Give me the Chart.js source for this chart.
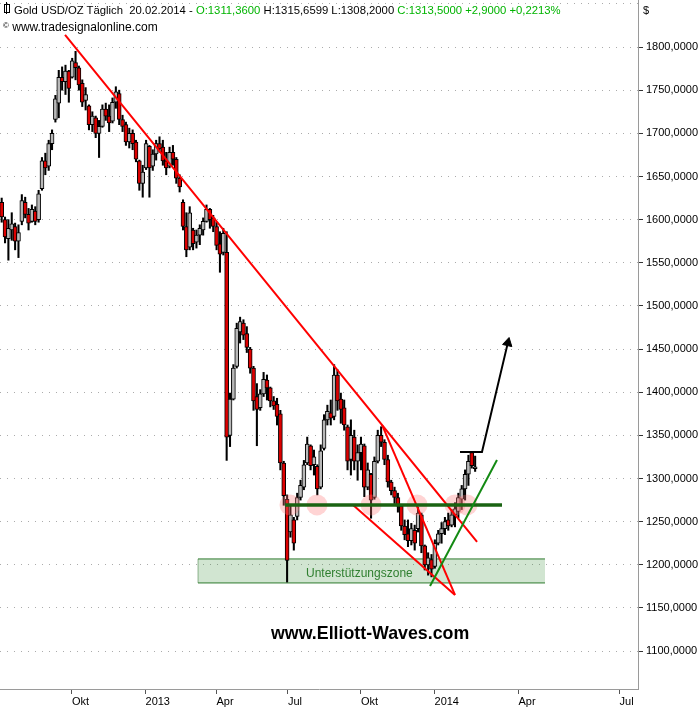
<!DOCTYPE html>
<html>
<head>
<meta charset="utf-8">
<title>Gold USD/OZ Täglich</title>
<script src="https://cdn.jsdelivr.net/npm/chart.js@4.4.1/dist/chart.umd.min.js"></script>
<style>
  body { margin: 0; background: #fff; }
  #wrap { position: relative; width: 700px; height: 710px; font-family: "Liberation Sans", Arial, sans-serif; overflow: hidden; }
  #chart { position: absolute; left: 0; top: 0; }
  .txt { position: absolute; white-space: nowrap; }
  #hdr { left: 14px; top: 3px; font-size: 11.3px; line-height: 14px; color: #000; }
  #hdr .g { color: #00b400; }
  #ico { position: absolute; left: 4px; top: 4px; width: 4px; height: 7px; border: 1px solid #000; }
  #ico2 { position: absolute; left: 6px; top: 2px; width: 1px; height: 12px; background: #000; }
  #copy { left: 3px; top: 19px; font-size: 12px; line-height: 14px; color: #000; }
  #copy small { font-size: 8px; vertical-align: 3px; }
  #cur { left: 643px; top: 3px; font-size: 11px; line-height: 14px; color: #000; }
  #mark { left: 271px; top: 623px; font-size: 17.8px; line-height: 20px; font-weight: bold; color: #000; }
  #zone { left: 306px; top: 566px; font-size: 12px; line-height: 14px; color: #2f7f2f; }
</style>
</head>
<body>
<div id="wrap">
  <canvas id="chart" width="700" height="710"></canvas>
  <div id="ico2"></div><div id="ico"></div>
  <div id="hdr" class="txt">Gold USD/OZ Täglich&nbsp; 20.02.2014 - <span class="g">O:1311,3600</span> H:1315,6599 L:1308,2000 <span class="g">C:1313,5000 +2,9000 +0,2213%</span></div>
  <div id="copy" class="txt"><small>©</small> www.tradesignalonline.com</div>
  <div id="cur" class="txt">$</div>
  <div id="zone" class="txt">Unterstützungszone</div>
  <div id="mark" class="txt">www.Elliott-Waves.com</div>
</div>
<script>
// Gold daily candles (one candle per 3 trading days)
const candleStep = 3;
const opens = [1620,1600,1578,1588,1592,1575,1598,1620,1606,1598,1610,1600,1636,1668,1662,1688,1716,1735,1765,1760,
  1772,1765,1782,1776,1758,1738,1732,1710,1718,1700,1708,1728,1720,1714,1736,1746,1716,1710,1690,1700,
  1690,1668,1642,1660,1685,1662,1676,1688,1684,1668,1662,1678,1670,1648,1620,1592,1568,1588,1574,1582,
  1588,1598,1612,1602,1592,1572,1562,1562,1350,1392,1430,1470,1480,1468,1450,1428,1395,1382,1398,1414,
  1405,1390,1386,1375,1318,1276,1238,1252,1256,1278,1290,1318,1338,1316,1314,1290,1335,1368,1376,1372,
  1420,1392,1382,1360,1322,1348,1320,1330,1338,1290,1305,1278,1320,1350,1342,1322,1296,1286,1278,1268,
  1245,1236,1228,1240,1242,1258,1222,1200,1206,1198,1225,1236,1242,1252,1246,1258,1262,1276,1288,1305,
  1330,1311.36];
const highs = [1625,1603,1600,1608,1596,1594,1629,1626,1613,1617,1615,1634,1672,1677,1692,1704,1744,1773,1777,1779,
  1773,1787,1795,1778,1762,1753,1733,1725,1720,1715,1733,1735,1733,1741,1754,1750,1721,1713,1706,1704,
  1692,1669,1663,1692,1686,1681,1692,1696,1692,1678,1684,1686,1672,1652,1623,1608,1615,1590,1588,1594,
  1602,1617,1613,1605,1597,1586,1590,1586,1399,1432,1480,1487,1484,1476,1452,1430,1410,1403,1423,1420,
  1406,1395,1393,1379,1320,1281,1268,1255,1283,1298,1321,1348,1339,1333,1316,1339,1374,1385,1391,1432,
  1426,1399,1391,1362,1368,1356,1339,1348,1340,1318,1306,1325,1356,1360,1345,1327,1298,1290,1283,1269,
  1252,1252,1248,1246,1267,1260,1223,1214,1212,1229,1240,1249,1255,1260,1264,1272,1283,1292,1310,1327,
  1331,1326];
const lows = [1597,1573,1553,1576,1565,1556,1594,1602,1588,1597,1594,1597,1634,1652,1657,1681,1713,1718,1750,1745,
  1736,1764,1762,1750,1731,1727,1704,1702,1695,1672,1707,1715,1702,1712,1729,1710,1702,1686,1683,1681,
  1667,1634,1626,1658,1626,1657,1669,1678,1663,1652,1660,1663,1642,1632,1588,1557,1565,1565,1567,1571,
  1582,1597,1590,1586,1565,1539,1559,1321,1337,1391,1428,1457,1461,1446,1422,1379,1338,1379,1395,1391,
  1383,1380,1362,1310,1269,1180,1232,1217,1252,1275,1287,1316,1310,1304,1281,1288,1333,1362,1362,1368,
  1379,1364,1356,1310,1304,1310,1298,1310,1279,1287,1254,1276,1318,1337,1316,1290,1281,1271,1261,1240,
  1229,1221,1223,1217,1238,1214,1194,1188,1186,1196,1223,1225,1235,1240,1244,1244,1254,1264,1275,1292,
  1312,1308.2];
const closes = [1603,1580,1590,1595,1575,1585,1622,1606,1596,1612,1598,1630,1668,1660,1688,1700,1740,1765,1760,1772,
  1752,1784,1776,1756,1736,1745,1710,1720,1700,1708,1728,1720,1712,1736,1748,1716,1708,1690,1700,1688,
  1670,1642,1655,1688,1660,1676,1688,1682,1668,1660,1678,1670,1648,1638,1592,1565,1608,1572,1582,1590,
  1598,1612,1600,1592,1570,1560,1584,1348,1392,1428,1474,1482,1466,1452,1428,1390,1380,1398,1415,1405,
  1390,1384,1372,1318,1280,1205,1258,1225,1278,1292,1316,1340,1315,1325,1288,1332,1368,1378,1370,1420,
  1390,1380,1362,1320,1350,1320,1330,1340,1290,1310,1275,1320,1350,1342,1322,1296,1286,1278,1268,1245,
  1235,1228,1242,1225,1260,1222,1200,1208,1195,1225,1236,1242,1250,1245,1258,1265,1278,1288,1305,1320,
  1315,1313.5];

// axis ticks
const yTicks = [1100,1150,1200,1250,1300,1350,1400,1450,1500,1550,1600,1650,1700,1750,1800,1850];
const xTickPos = [64.3, 130.0, 193.4, 257.3, 322.5, 388.2, 463.2, 553.5];
const xTickLabels = ['Okt','2013','Apr','Jul','Okt','2014','Apr','Jul'];

// drawn annotations (trading-day index, price)
const resistanceLine = [[58.1, 1814], [426.2, 1226.5]];
const wedgeLower = [[315.4, 1269.4], [406.5, 1165.1]];
const wedgeUpper = [[341.3, 1362.1], [406.5, 1165.1]];
const uptrendLine = [[384.2, 1175.5], [444.0, 1321.5]];
const necklineLine = [[254.6, 1269.4], [448.5, 1269.4]];
const projectionPath = [[411.0, 1330.8], [430.6, 1330.8], [453.7, 1457.2]];
const touchPoints = [259.1, 283.2, 331.5, 372.6, 406.5, 417.2];
const touchLevel = 1269.4;
const zoneX = [176.9, 486.9];
const zoneLow = 1179;
const zoneHigh = 1206.8;

const toXY = arr => arr.map(p => ({ x: p[0], y: p[1] }));
const candleX = i => candleStep / 2 + i * candleStep;

const wicks = highs.map((h, i) => ({ x: candleX(i), y: [lows[i], h] }));
const bodies = opens.map((o, i) => ({ x: candleX(i), y: [o, closes[i]] }));
const bodyColors = opens.map((o, i) => closes[i] < o ? '#dd0000' : '#b8b8b8');

function lineSet(points, color, width, order) {
  return {
    type: 'line', data: toXY(points), borderColor: color, borderWidth: width,
    pointRadius: 0, fill: false, tension: 0, order: order
  };
}

const datasets = [
  // arrow head
  {
    type: 'line', showLine: false, order: 0,
    data: [{ x: projectionPath[2][0], y: projectionPath[2][1] }],
    pointStyle: 'triangle', rotation: 13, pointRadius: 5.5,
    pointBackgroundColor: '#000', pointBorderColor: '#000', pointBorderWidth: 1
  },
  lineSet(projectionPath, '#000', 2, 1),
  lineSet(uptrendLine, '#138a13', 2, 1),
  lineSet(necklineLine, '#1a6312', 3.5, 1),
  lineSet(resistanceLine, '#ff0000', 2, 1),
  lineSet(wedgeLower, '#ff0000', 2, 1),
  lineSet(wedgeUpper, '#ff0000', 2, 1),
  // touch circles
  {
    type: 'line', showLine: false, order: 2,
    data: touchPoints.map(x => ({ x: x, y: touchLevel })),
    pointRadius: 10.5, pointBackgroundColor: 'rgba(255,120,120,0.32)', pointBorderWidth: 0
  },
  // candles
  {
    type: 'bar', data: bodies, grouped: false, order: 3, barThickness: 4,
    backgroundColor: bodyColors, borderColor: '#000', borderWidth: 1, borderSkipped: false
  },
  {
    type: 'bar', data: wicks, grouped: false, order: 4, barThickness: 1.4,
    backgroundColor: '#000', borderWidth: 0
  },
  // support zone
  {
    type: 'line', order: 8, data: zoneX.map(x => ({ x: x, y: zoneHigh })),
    borderColor: '#2d7a2d', borderWidth: 1, pointRadius: 0, fill: false
  },
  {
    type: 'line', order: 8, data: zoneX.map(x => ({ x: x, y: zoneLow })),
    borderColor: '#2d7a2d', borderWidth: 1, pointRadius: 0, fill: '-1',
    backgroundColor: 'rgba(40,130,40,0.21)'
  },
  {
    type: 'line', order: 8, data: [{ x: zoneX[0], y: zoneLow }, { x: zoneX[0], y: zoneHigh }],
    borderColor: '#9ab89a', borderWidth: 1, pointRadius: 0, fill: false
  }
];

const ctx = document.getElementById('chart').getContext('2d');
new Chart(ctx, {
  type: 'bar',
  data: { datasets: datasets },
  options: {
    responsive: false,
    animation: false,
    devicePixelRatio: 1,
    events: [],
    layout: { padding: 0, autoPadding: false },
    plugins: { legend: { display: false }, tooltip: { enabled: false } },
    scales: {
      x: {
        type: 'linear', position: 'bottom', min: 0, max: 570, offset: false,
        grid: { drawOnChartArea: false, drawTicks: true, tickLength: 5, tickColor: '#555', offset: false },
        border: { color: '#9a9a9a', width: 1 },
        ticks: {
          align: 'start', padding: 1, autoSkip: false, maxRotation: 0, color: '#000',
          font: { family: 'Liberation Sans', size: 11 },
          callback: (v, i) => xTickLabels[i]
        },
        afterBuildTicks: axis => { axis.ticks = xTickPos.map(v => ({ value: v })); },
        afterFit: axis => { axis.height = 21; axis.paddingLeft = 0; axis.paddingRight = 0; }
      },
      y: {
        type: 'linear', position: 'right', min: 1056.1, max: 1854.5,
        grid: {
          color: '#ababab', lineWidth: 1, drawTicks: true, tickLength: 5,
          tickColor: c => (c.tick && c.tick.value > 1800) ? 'rgba(0,0,0,0)' : '#333',
          tickBorderDash: []
        },
        border: { color: '#9a9a9a', width: 1, dash: [1, 6] },
        ticks: {
          padding: 3, color: '#000', font: { family: 'Liberation Sans', size: 11 },
          callback: v => v > 1800 ? '' : v.toFixed(4).replace('.', ',')
        },
        afterBuildTicks: axis => { axis.ticks = yTicks.map(v => ({ value: v })); },
        afterFit: axis => { axis.width = 62; axis.paddingTop = 0; axis.paddingBottom = 0; }
      }
    }
  }
});
</script>
</body>
</html>
